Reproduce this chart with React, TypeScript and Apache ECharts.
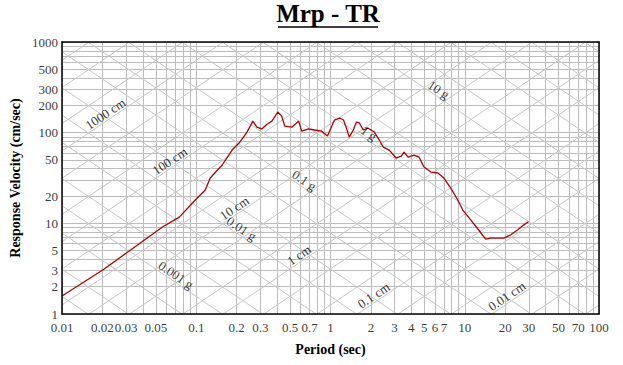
import React, { useEffect, useRef } from "react";
import * as echarts from "echarts";

// ---- data ----
const periods = [0.01, 0.0201, 0.0336, 0.056, 0.0748, 0.0984, 0.1167, 0.127, 0.156, 0.185, 0.2085, 0.239, 0.264, 0.283, 0.308, 0.336, 0.366, 0.405, 0.433, 0.456, 0.514, 0.579, 0.61, 0.687, 0.76, 0.857, 0.95, 1.07, 1.167, 1.25, 1.315, 1.38, 1.48, 1.56, 1.64, 1.755, 1.91, 2.12, 2.31, 2.47, 2.74, 3.08, 3.36, 3.53, 3.78, 4.19, 4.56, 4.97, 5.6, 6.31, 6.99, 7.87, 8.87, 9.67, 11.07, 12.7, 14.3, 15.6, 19.5, 21.9, 24.7, 27.4, 29.8];
const velocities = [1.58, 3.06, 5.27, 9.1, 11.7, 18.1, 23.3, 31.6, 44, 64.3, 76.8, 101.6, 134, 115, 110, 124, 134, 169, 152, 118, 115, 134, 104, 110, 107, 104, 91.8, 138, 145, 138, 112, 89.4, 107, 131, 128, 107, 112, 101.6, 82.9, 69.4, 64.3, 52.5, 55.2, 61.1, 53.8, 56.6, 53.8, 41.8, 36.8, 35.9, 31.6, 24.5, 18.1, 14.0, 10.9, 8.44, 6.7, 6.87, 6.87, 7.44, 8.44, 9.56, 10.4];

const xTickValues = [0.01, 0.02, 0.03, 0.05, 0.1, 0.2, 0.3, 0.5, 0.7, 1, 2, 3, 4, 5, 6, 7, 10, 20, 30, 50, 70, 100];
const xTickLabels = ["0.01", "0.02", "0.03", "0.05", "0.1", "0.2", "0.3", "0.5", "0.7", "1", "2", "3", "4", "5", "6", "7", "10", "20", "30", "50", "70", "100"];
const yTickValues = [1, 2, 3, 5, 10, 20, 50, 100, 200, 300, 500, 1000];
const yTickLabels = ["1", "2", "3", "5", "10", "20", "50", "100", "200", "300", "500", "1000"];

const gridMultipliers = [1, 2, 3, 4, 5, 6, 7, 8, 9];
const xDecades = [0.01, 0.1, 1, 10];
const yDecades = [1, 10, 100];
const diagMultipliers = [1, 2, 5];

const dispLabels = ["1000 cm", "100 cm", "10 cm", "1 cm", "0.1 cm", "0.01 cm"];
const dispValues = [1000, 100, 10, 1, 0.1, 0.01];
const dispLabelPeriods = [0.0224, 0.0676, 0.2046, 0.621, 2.23, 21.9];
const accLabels = ["10 g", "1 g", "0.1 g", "0.01 g", "0.001 g"];
const accValues = [10, 1, 0.1, 0.01, 0.001];
const accLabelPeriods = [6.0, 1.816, 0.6, 0.2046, 0.0664];

const TITLE = "Mrp - TR";
const G = 981;
const X_MIN = 0.01, X_MAX = 100, Y_MIN = 1, Y_MAX = 1000;
const LEFT = 59, RIGHT = 24, TOP = 42, BOTTOM = 51, W = 623, H = 365;
const FONT = "'Liberation Serif', 'Times New Roman', serif";

const lg = Math.log10;

// line in log space: logSV = s*logT + c, clipped to plot box
function clipSeg(s: number, c: number): number[][] | null {
  const x0 = lg(X_MIN), x1 = lg(X_MAX), y0 = lg(Y_MIN), y1 = lg(Y_MAX);
  let xs: number, xe: number;
  if (s > 0) {
    xs = Math.max(x0, y0 - c);
    xe = Math.min(x1, y1 - c);
  } else {
    xs = Math.max(x0, c - y1);
    xe = Math.min(x1, c - y0);
  }
  if (xe - xs < 1e-6) return null;
  return [
    [Math.pow(10, xs), Math.pow(10, s * xs + c)],
    [Math.pow(10, xe), Math.pow(10, s * xe + c)],
  ];
}

export default function App() {
  const ref = useRef<HTMLDivElement>(null);
  useEffect(() => {
    if (!ref.current) return;
    const chart = echarts.init(ref.current, undefined, { renderer: "svg" });

    const plotW = W - LEFT - RIGHT;
    const plotH = H - TOP - BOTTOM;
    const angle = (Math.atan((plotH / lg(Y_MAX / Y_MIN)) / (plotW / lg(X_MAX / X_MIN))) * 180) / Math.PI;

    const gridSegs: any[] = [];
    xDecades.forEach((d) => gridMultipliers.forEach((m) => gridSegs.push({ coords: [[d * m, Y_MIN], [d * m, Y_MAX]] })));
    gridSegs.push({ coords: [[X_MAX, Y_MIN], [X_MAX, Y_MAX]] });
    yDecades.forEach((d) => gridMultipliers.forEach((m) => gridSegs.push({ coords: [[X_MIN, d * m], [X_MAX, d * m]] })));
    gridSegs.push({ coords: [[X_MIN, Y_MAX], [X_MAX, Y_MAX]] });

    const diagSegs: any[] = [];
    for (let k = -8; k <= 8; k++) {
      diagMultipliers.forEach((m) => {
        const v = m * Math.pow(10, k);
        const su = clipSeg(1, lg(2 * Math.PI * v));
        if (su) diagSegs.push({ coords: su });
        const sd = clipSeg(-1, lg((G * v) / (2 * Math.PI)));
        if (sd) diagSegs.push({ coords: sd });
      });
    }

    const dispLabelData = dispLabels.map((name, i) => {
      const t = dispLabelPeriods[i];
      return { name, value: [t, 2 * Math.PI * dispValues[i] * t] };
    });
    const accLabelData = accLabels.map((name, i) => {
      const t = accLabelPeriods[i];
      return { name, value: [t, (G * accValues[i]) / (2 * Math.PI) / t] };
    });

    const labelCommon = {
      show: true,
      formatter: "{b}",
      color: "#000",
      fontFamily: FONT,
      fontSize: 13,
    };

    const hiddenAxis = {
      type: "log",
      logBase: 10,
      axisLabel: { show: false },
      axisTick: { show: false },
      splitLine: { show: false },
      axisLine: { show: true, lineStyle: { color: "#000", width: 1.5 } },
      z: 10,
    };

    chart.setOption({
      animation: false,
      graphic: [
        {
          type: "text",
          x: 328,
          y: 1,
          style: {
            text: TITLE,
            fill: "#000",
            font: "bold 25px 'Liberation Serif', 'Times New Roman', serif",
            textAlign: "center",
            textVerticalAlign: "top",
          },
        },
        {
          type: "line",
          shape: { x1: 278, y1: 27, x2: 378, y2: 27 },
          style: { stroke: "#000", lineWidth: 1.5 },
        },
      ],
      grid: { left: LEFT, right: RIGHT, top: TOP, bottom: BOTTOM },
      xAxis: [
        {
          ...hiddenAxis,
          min: X_MIN,
          max: X_MAX,
          position: "bottom",
          name: "Period (sec)",
          nameLocation: "middle",
          nameGap: 28,
          nameTextStyle: { fontFamily: FONT, fontWeight: "bold", fontSize: 14, color: "#000" },
        },
        { ...hiddenAxis, min: X_MIN, max: X_MAX, position: "top" },
      ],
      yAxis: [
        {
          ...hiddenAxis,
          min: Y_MIN,
          max: Y_MAX,
          position: "left",
          name: "Response Velocity (cm/sec)",
          nameLocation: "middle",
          nameGap: 40,
          nameRotate: 90,
          nameTextStyle: { fontFamily: FONT, fontWeight: "bold", fontSize: 14, color: "#000" },
        },
        { ...hiddenAxis, min: Y_MIN, max: Y_MAX, position: "right" },
      ],
      series: [
        {
          type: "lines",
          coordinateSystem: "cartesian2d",
          silent: true,
          z: 1,
          lineStyle: { color: "#bdbdbd", width: 1, opacity: 1 },
          data: gridSegs,
        },
        {
          type: "lines",
          coordinateSystem: "cartesian2d",
          silent: true,
          z: 1,
          lineStyle: { color: "#c6c6c6", width: 1, opacity: 1 },
          data: diagSegs,
        },
        {
          type: "line",
          data: periods.map((p, i) => [p, velocities[i]]),
          showSymbol: false,
          symbol: "none",
          lineStyle: { color: "#b00000", width: 1.3 },
          z: 5,
        },
        {
          type: "scatter",
          symbolSize: 0,
          silent: true,
          z: 6,
          data: dispLabelData,
          label: { ...labelCommon, position: [0, 0], align: "center", verticalAlign: "bottom", rotate: angle },
        },
        {
          type: "scatter",
          symbolSize: 0,
          silent: true,
          z: 6,
          data: accLabelData,
          label: { ...labelCommon, position: [0, 0], align: "center", verticalAlign: "bottom", rotate: -angle },
        },
        {
          type: "scatter",
          symbolSize: 0,
          silent: true,
          clip: false,
          z: 6,
          data: xTickValues.map((v, i) => ({ name: xTickLabels[i], value: [v, Y_MIN] })),
          label: { ...labelCommon, position: "bottom", distance: 7 },
        },
        {
          type: "scatter",
          symbolSize: 0,
          silent: true,
          clip: false,
          z: 6,
          data: yTickValues.map((v, i) => ({ name: yTickLabels[i], value: [X_MIN, v] })),
          label: { ...labelCommon, position: "left", distance: 4, lineHeight: 12 },
        },
      ],
    });
    return () => chart.dispose();
  }, []);
  return (
    <div
      ref={ref}
      style={{ position: "fixed", left: 0, top: 0, width: W, height: H, background: "#fff" }}
    />
  );
}
